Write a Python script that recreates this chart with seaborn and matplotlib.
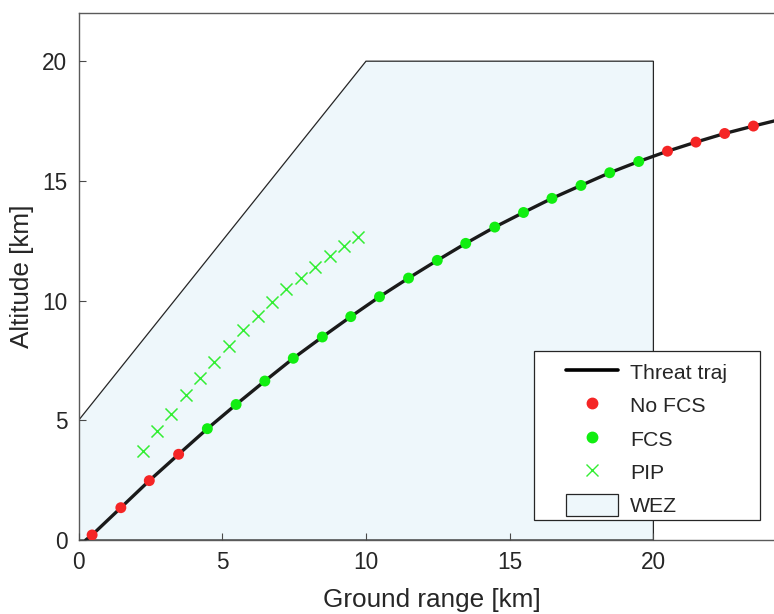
import matplotlib
matplotlib.use("Agg")
import matplotlib.pyplot as plt
import seaborn as sns
import pandas as pd
from matplotlib.lines import Line2D
from matplotlib.patches import Patch, Polygon, Rectangle

# ---- data ----
traj_x = [0.25, 0.47, 1.47, 2.46, 3.48, 4.48, 5.48, 6.48, 7.47, 8.48, 9.47, 10.47, 11.48,
          12.48, 13.47, 14.48, 15.48, 16.47, 17.48, 18.48, 19.49, 20.49, 21.48, 22.48,
          23.48, 24.6]
traj_y = [0.0, 0.21, 1.35, 2.48, 3.58, 4.65, 5.66, 6.64, 7.59, 8.48, 9.33, 10.16, 10.94,
          11.68, 12.39, 13.07, 13.68, 14.27, 14.81, 15.34, 15.81, 16.24, 16.62, 16.98,
          17.29, 17.62]

nofcs_x = [0.47, 1.47, 2.46, 3.48, 20.49, 21.48, 22.48, 23.48]
nofcs_y = [0.21, 1.35, 2.48, 3.58, 16.24, 16.62, 16.98, 17.29]

fcs_x = [4.48, 5.48, 6.48, 7.47, 8.48, 9.47, 10.47, 11.48, 12.48, 13.47, 14.48, 15.48,
         16.47, 17.48, 18.48, 19.49]
fcs_y = [4.65, 5.66, 6.64, 7.59, 8.48, 9.33, 10.16, 10.94, 11.68, 12.39, 13.07, 13.68,
         14.27, 14.81, 15.34, 15.81]

pip_x = [2.23, 2.73, 3.22, 3.73, 4.23, 4.72, 5.23, 5.72, 6.23, 6.73, 7.23, 7.74, 8.23,
         8.73, 9.23, 9.73]
pip_y = [3.71, 4.54, 5.28, 6.04, 6.76, 7.45, 8.11, 8.76, 9.37, 9.94, 10.47, 10.93, 11.40,
         11.87, 12.28, 12.64]

wez_x = [0, 0, 10, 20, 20]
wez_y = [0, 5, 20, 20, 0]

x_ticks = [0, 5, 10, 15, 20]
y_ticks = [0, 5, 10, 15, 20]
legend_labels = ['Threat traj', 'No FCS', 'FCS', 'PIP', 'WEZ']

# ---- style ----
sns.set_theme(style="white")
plt.rcParams['font.family'] = ['Liberation Sans', 'DejaVu Sans']

RED = '#f52525'
GREEN = '#11ee11'
XGREEN = '#33ee33'
WEZC = '#eef7fb'
EDGE = '#262626'

fig = plt.figure(figsize=(7.74, 6.14), dpi=100)
ax_w_px = 24.6 * 28.74
ax_h_px = 526.7
ax = fig.add_axes([78.6 / 774, 74 / 614, ax_w_px / 774, ax_h_px / 614])
ax.set_axisbelow(False)

wez = Polygon(list(zip(wez_x, wez_y)), closed=True, facecolor=WEZC,
              edgecolor=EDGE, linewidth=0.9, zorder=1)
ax.add_patch(wez)

df_traj = pd.DataFrame({'x': traj_x, 'y': traj_y})
sns.lineplot(data=df_traj, x='x', y='y', sort=False, color='#1a1a1a', linewidth=2.4,
             ax=ax, zorder=3)

sns.scatterplot(x=nofcs_x, y=nofcs_y, color=RED, s=62, edgecolor='none', ax=ax, zorder=4)
sns.scatterplot(x=fcs_x, y=fcs_y, color=GREEN, s=62, edgecolor='none', ax=ax, zorder=4)
sns.scatterplot(x=pip_x, y=pip_y, color=XGREEN, marker='x', s=75, linewidth=1.1, ax=ax, zorder=4)

ax.set_xlim(0, 24.6)
ax.set_ylim(0, 22)
ax.set_xticks(x_ticks)
ax.set_yticks(y_ticks)
ax.tick_params(direction='in', length=5, width=0.8, colors='#4a4a4a', labelsize=16.3,
               bottom=True, left=True, pad=8)
for lbl in ax.get_xticklabels() + ax.get_yticklabels():
    lbl.set_color('#262626')
for s in ['left', 'bottom', 'top', 'right']:
    ax.spines[s].set_color('#5a5a5a')
    ax.spines[s].set_linewidth(1.0)
ax.set_xlabel('Ground range [km]', fontsize=18.8, color='#262626', labelpad=10)
ax.set_ylabel('Altitude [km]', fontsize=18.8, color='#262626', labelpad=6)

# legend frame drawn as a rectangle at the reference position
def ax_x(px):
    return (px - 78.6) / ax_w_px

def ax_y(py):
    return (540 - py) / ax_h_px

frame = Rectangle((ax_x(534), ax_y(520)), 226 / ax_w_px, 169 / ax_h_px,
                  transform=ax.transAxes, facecolor='white', edgecolor=EDGE,
                  linewidth=0.9, zorder=5)
ax.add_patch(frame)

handles = [
    Line2D([0], [0], color='black', linewidth=2.6),
    Line2D([0], [0], color=RED, marker='o', linestyle='none', markersize=7.5),
    Line2D([0], [0], color=GREEN, marker='o', linestyle='none', markersize=7.5),
    Line2D([0], [0], color=XGREEN, marker='x', linestyle='none', markersize=9),
    Patch(facecolor=WEZC, edgecolor=EDGE, linewidth=0.9),
]
leg = ax.legend(handles, legend_labels, loc='upper left',
                bbox_to_anchor=(ax_x(566), ax_y(361)),
                fontsize=15.3, frameon=False, handlelength=2.45, handleheight=1.2,
                labelspacing=0.53, borderpad=0, handletextpad=0.56, borderaxespad=0)
leg.set_zorder(6)

fig.savefig('out.png', dpi=100)
